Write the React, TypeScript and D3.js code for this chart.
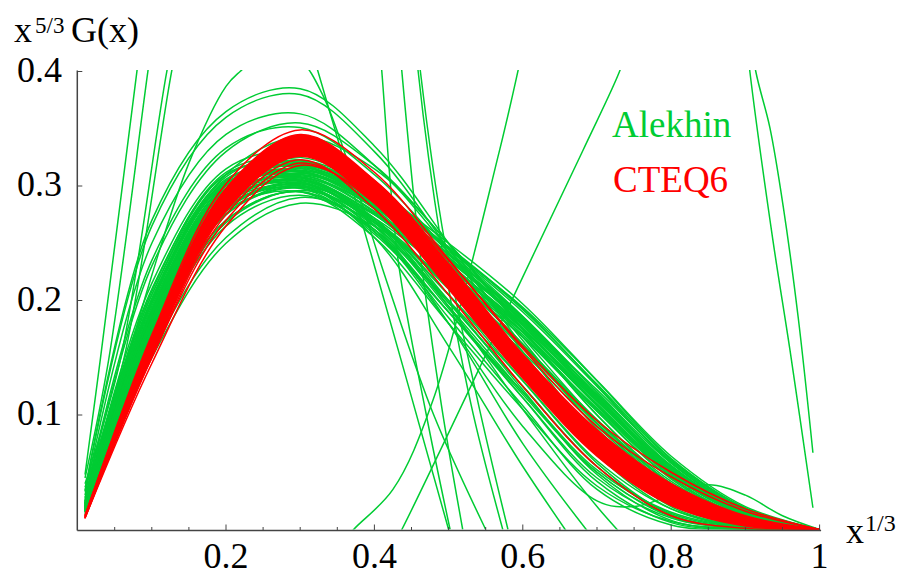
import React from 'react';
import * as d3 from 'd3';

// common grid of x^{1/3} values for the band curves
const T = [0.01, 0.1, 0.2, 0.3, 0.4, 0.5, 0.6, 0.7, 0.8, 0.9, 1.0];

// CTEQ6 band envelope
const redUpper = [0.012, 0.168, 0.298, 0.345, 0.305, 0.232, 0.153, 0.087, 0.04, 0.012, 0];
const redLower = [0.010, 0.152, 0.278, 0.326, 0.285, 0.21, 0.132, 0.064, 0.021, 0.003, 0];

// individual CTEQ6 members visible outside the core band
const redLines: number[][] = [
  [0.012, 0.17, 0.302, 0.349, 0.312, 0.236, 0.158, 0.09, 0.046, 0.016, 0],
  [0.012, 0.165, 0.296, 0.342, 0.305, 0.235, 0.16, 0.095, 0.05, 0.018, 0],
  [0.011, 0.15, 0.27, 0.32, 0.285, 0.215, 0.14, 0.072, 0.027, 0.005, 0],
  [0.01, 0.15, 0.275, 0.323, 0.28, 0.205, 0.125, 0.055, 0.012, 0.001, 0],
  [0.01, 0.145, 0.265, 0.318, 0.288, 0.222, 0.146, 0.075, 0.028, 0.006, 0],
];

// Alekhin members on the common grid
const greenLines: number[][] = [
  [0.018, 0.18, 0.29, 0.31, 0.285, 0.235, 0.18, 0.115, 0.055, 0.016, 0],
  [0.02, 0.19, 0.298, 0.315, 0.288, 0.238, 0.182, 0.118, 0.056, 0.015, 0],
  [0.022, 0.2, 0.305, 0.318, 0.29, 0.24, 0.185, 0.12, 0.058, 0.017, 0],
  [0.019, 0.185, 0.295, 0.312, 0.283, 0.23, 0.175, 0.11, 0.05, 0.013, 0],
  [0.021, 0.195, 0.3, 0.313, 0.285, 0.232, 0.176, 0.108, 0.048, 0.012, 0],
  [0.024, 0.21, 0.31, 0.32, 0.29, 0.24, 0.183, 0.115, 0.052, 0.014, 0],
  [0.017, 0.175, 0.285, 0.307, 0.282, 0.235, 0.183, 0.122, 0.06, 0.018, 0],
  [0.02, 0.19, 0.3, 0.322, 0.297, 0.245, 0.19, 0.125, 0.058, 0.016, 0],
  [0.023, 0.205, 0.308, 0.325, 0.297, 0.243, 0.185, 0.117, 0.053, 0.014, 0],
  [0.018, 0.183, 0.292, 0.316, 0.29, 0.24, 0.186, 0.12, 0.055, 0.015, 0],
  [0.02, 0.188, 0.296, 0.31, 0.278, 0.225, 0.17, 0.105, 0.047, 0.012, 0],
  [0.022, 0.198, 0.303, 0.308, 0.275, 0.222, 0.168, 0.103, 0.045, 0.011, 0],
  [0.025, 0.215, 0.315, 0.33, 0.3, 0.245, 0.186, 0.116, 0.05, 0.012, 0],
  [0.016, 0.17, 0.28, 0.3, 0.275, 0.228, 0.175, 0.112, 0.052, 0.014, 0],
  [0.019, 0.186, 0.297, 0.32, 0.296, 0.25, 0.197, 0.13, 0.062, 0.019, 0],
  [0.017, 0.175, 0.285, 0.305, 0.275, 0.22, 0.16, 0.095, 0.04, 0.009, 0],
  [0.019, 0.182, 0.29, 0.308, 0.277, 0.218, 0.155, 0.09, 0.036, 0.007, 0],
  [0.021, 0.192, 0.298, 0.312, 0.28, 0.22, 0.158, 0.092, 0.037, 0.008, 0],
  [0.02, 0.19, 0.302, 0.322, 0.29, 0.228, 0.162, 0.093, 0.036, 0.007, 0],
  [0.018, 0.178, 0.287, 0.303, 0.27, 0.212, 0.15, 0.085, 0.032, 0.006, 0],
  [0.023, 0.205, 0.31, 0.318, 0.283, 0.225, 0.162, 0.096, 0.04, 0.009, 0],
  [0.016, 0.168, 0.275, 0.298, 0.265, 0.2, 0.13, 0.06, 0.018, 0.003, 0],
  [0.015, 0.16, 0.265, 0.292, 0.262, 0.198, 0.125, 0.055, 0.014, 0.002, 0],
  [0.018, 0.18, 0.285, 0.3, 0.262, 0.19, 0.115, 0.045, 0.01, 0.001, 0],
  [0.017, 0.172, 0.278, 0.295, 0.255, 0.18, 0.105, 0.038, 0.007, 0.001, 0],
  [0.014, 0.155, 0.255, 0.29, 0.268, 0.21, 0.14, 0.07, 0.024, 0.004, 0],
  [0.02, 0.185, 0.29, 0.305, 0.268, 0.195, 0.12, 0.05, 0.012, 0.001, 0],
  [0.016, 0.165, 0.27, 0.295, 0.26, 0.19, 0.12, 0.052, 0.015, 0.002, 0],
  [0.013, 0.15, 0.25, 0.285, 0.265, 0.215, 0.15, 0.08, 0.028, 0.005, 0],
  [0.025, 0.23, 0.33, 0.355, 0.318, 0.25, 0.175, 0.1, 0.042, 0.01, 0],
  [0.027, 0.235, 0.333, 0.351, 0.31, 0.242, 0.168, 0.095, 0.038, 0.008, 0],
  [0.03, 0.25, 0.345, 0.363, 0.318, 0.245, 0.165, 0.088, 0.032, 0.005, 0],
  [0.034, 0.27, 0.365, 0.385, 0.335, 0.25, 0.16, 0.08, 0.025, 0.003, 0],
  [0.033, 0.265, 0.36, 0.38, 0.33, 0.245, 0.155, 0.077, 0.022, 0.003, 0],
  [0.022, 0.2, 0.31, 0.343, 0.315, 0.25, 0.175, 0.1, 0.04, 0.008, 0],
  [0.019, 0.184, 0.293, 0.314, 0.286, 0.233, 0.176, 0.112, 0.052, 0.014, 0],
  [0.021, 0.193, 0.301, 0.317, 0.288, 0.236, 0.179, 0.113, 0.051, 0.013, 0],
  [0.018, 0.181, 0.291, 0.309, 0.281, 0.229, 0.173, 0.108, 0.049, 0.013, 0],
  [0.02, 0.187, 0.294, 0.306, 0.276, 0.226, 0.172, 0.109, 0.05, 0.014, 0],
  [0.022, 0.197, 0.302, 0.313, 0.282, 0.231, 0.178, 0.114, 0.054, 0.015, 0],
  [0.017, 0.177, 0.288, 0.311, 0.286, 0.237, 0.181, 0.114, 0.051, 0.013, 0],
  [0.023, 0.202, 0.306, 0.316, 0.284, 0.23, 0.172, 0.104, 0.044, 0.01, 0],
  [0.02, 0.189, 0.297, 0.319, 0.292, 0.241, 0.184, 0.117, 0.053, 0.014, 0],
  [0.019, 0.183, 0.289, 0.302, 0.272, 0.222, 0.168, 0.106, 0.049, 0.014, 0],
  [0.024, 0.208, 0.312, 0.323, 0.292, 0.238, 0.178, 0.109, 0.046, 0.01, 0],
  [0.017, 0.174, 0.281, 0.302, 0.27, 0.205, 0.13, 0.058, 0.013, 0.001, 0],
  [0.018, 0.179, 0.286, 0.305, 0.272, 0.2, 0.122, 0.048, 0.008, 0, 0],
  [0.016, 0.169, 0.276, 0.299, 0.268, 0.205, 0.135, 0.065, 0.018, 0.002, 0],
  [0.019, 0.183, 0.288, 0.304, 0.266, 0.193, 0.115, 0.042, 0.006, 0, 0],
  [0.015, 0.162, 0.268, 0.296, 0.27, 0.213, 0.145, 0.072, 0.02, 0.002, 0],
  [0.02, 0.188, 0.292, 0.307, 0.27, 0.198, 0.125, 0.055, 0.012, 0.001, 0],
  [0.017, 0.171, 0.279, 0.301, 0.262, 0.185, 0.108, 0.035, 0.004, 0, 0],
  [0.018, 0.176, 0.283, 0.298, 0.258, 0.19, 0.118, 0.05, 0.011, 0.001, 0],
  [0.02, 0.189, 0.298, 0.318, 0.294, 0.246, 0.192, 0.127, 0.061, 0.018, 0],
  [0.022, 0.199, 0.304, 0.321, 0.295, 0.247, 0.193, 0.126, 0.059, 0.017, 0],
  [0.018, 0.179, 0.289, 0.313, 0.291, 0.245, 0.194, 0.13, 0.064, 0.02, 0],
];

// Alekhin members that leave the frame, each with its own abscissae
const greenWildT: number[][] = [
  [0.01, 0.1, 0.2, 0.3, 0.4, 0.5, 0.6, 0.7],
  [0.01, 0.1, 0.2, 0.3, 0.4, 0.5, 0.6, 0.7, 0.8],
  [0.01, 0.1, 0.2, 0.3, 0.4, 0.5, 0.6, 0.7, 0.8],
  [0.01, 0.1, 0.2, 0.3, 0.4, 0.5, 0.6, 0.7, 0.75, 0.8, 0.85, 0.9, 0.95, 1.0],
  [0.01, 0.0305, 0.0801, 0.1],
  [0.01, 0.0418, 0.0949, 0.11],
  [0.01, 0.0575, 0.1205, 0.14],
  [0.01, 0.062, 0.127, 0.145],
  [0.01, 0.0666, 0.1, 0.15, 0.2, 0.219, 0.26, 0.3, 0.33, 0.37, 0.42, 0.48, 0.55],
  [0.89, 0.906, 0.937, 0.96, 0.991],
  [0.9, 0.914, 0.933, 0.951, 0.971, 0.991],
  [0.405, 0.41, 0.432, 0.47, 0.502],
  [0.432, 0.437, 0.46, 0.49, 0.519],
  [0.454, 0.459, 0.49, 0.53, 0.573],
  [0.456, 0.462, 0.495, 0.54, 0.58],
  [0.31, 0.324, 0.398, 0.5],
  [0.36, 0.372, 0.425, 0.479, 0.569, 0.594, 0.6],
  [0.42, 0.437, 0.579, 0.681, 0.731, 0.74],
];
const greenWildV: number[][] = [
  [0.016, 0.17, 0.275, 0.3, 0.255, 0.16, 0.055, -0.04],
  [0.017, 0.175, 0.28, 0.303, 0.265, 0.18, 0.075, -0.012, -0.09],
  [0.018, 0.18, 0.285, 0.305, 0.27, 0.195, 0.105, 0.02, -0.05],
  [0.015, 0.165, 0.27, 0.295, 0.26, 0.18, 0.09, 0.025, 0.02, 0.03, 0.039, 0.03, 0.012, 0],
  [0.048, 0.148, 0.401, 0.5],
  [0.045, 0.148, 0.401, 0.47],
  [0.04, 0.148, 0.401, 0.46],
  [0.037, 0.148, 0.401, 0.455],
  [0.028, 0.148, 0.222, 0.32, 0.387, 0.4, 0.42, 0.41, 0.38, 0.31, 0.21, 0.1, 0.0],
  [0.5, 0.4, 0.253, 0.157, 0.019],
  [0.46, 0.4, 0.351, 0.282, 0.186, 0.067],
  [0.44, 0.4, 0.235, 0.1, 0],
  [0.44, 0.4, 0.25, 0.11, 0],
  [0.44, 0.4, 0.25, 0.11, 0],
  [0.44, 0.4, 0.25, 0.11, 0],
  [0.43, 0.4, 0.235, 0.0],
  [-0.01, 0, 0.035, 0.113, 0.332, 0.402, 0.42],
  [-0.02, 0, 0.192, 0.331, 0.401, 0.42],
];

const xMajor = [0.2, 0.4, 0.6, 0.8, 1];
const xMajorLabels = ['0.2', '0.4', '0.6', '0.8', '1'];
const xMinor = [0.05, 0.1, 0.15, 0.25, 0.3, 0.35, 0.45, 0.5, 0.55, 0.65, 0.7, 0.75, 0.85, 0.9, 0.95];
const yMajor = [0.1, 0.2, 0.3, 0.4];
const yMajorLabels = ['0.1', '0.2', '0.3', '0.4'];

const GREEN = '#00cc33';
const RED = '#ff0000';
const FONT = '"Liberation Serif", "Times New Roman", serif';

export default function App() {
  const x = d3.scaleLinear().domain([0, 1]).range([77.6, 819.6]);
  const y = d3.scaleLinear().domain([0, 0.4]).range([529.5, 71.5]);
  const line = d3
    .line<[number, number]>()
    .x((d) => x(d[0]))
    .y((d) => y(d[1]))
    .curve(d3.curveCatmullRom.alpha(0.5));
  const area = d3
    .area<number>()
    .x((_, i) => x(T[i]))
    .y0((_, i) => y(redLower[i]))
    .y1((_, i) => y(redUpper[i]))
    .curve(d3.curveCatmullRom.alpha(0.5));
  const onGrid = (vals: number[]) => vals.map((v, i) => [T[i], v] as [number, number]);

  const axisColor = '#444';
  const x0 = x(0) - 0.3;
  const yb = y(0) + 1;

  return (
    <svg
      width={903}
      height={581}
      style={{ position: 'absolute', left: 0, top: 0, background: '#fff' }}
      fontFamily={FONT}
    >
      <defs>
        <clipPath id="plot">
          <rect x={x(0)} y={y(0.4) - 1.5} width={x(1) - x(0) + 2} height={y(0) - y(0.4) + 1.5} />
        </clipPath>
      </defs>
      <rect width={903} height={581} fill="#fff" />
      <g clipPath="url(#plot)" fill="none" strokeLinejoin="round">
        {greenLines.map((c, i) => (
          <path key={'g' + i} d={line(onGrid(c)) || ''} stroke={GREEN} strokeWidth={1.5} />
        ))}
        {greenWildT.map((ts, i) => (
          <path
            key={'w' + i}
            d={line(ts.map((t, j) => [t, greenWildV[i][j]] as [number, number])) || ''}
            stroke={GREEN}
            strokeWidth={1.5}
          />
        ))}
        <path d={area(redUpper) || ''} fill={RED} stroke={RED} strokeWidth={1.5} />
        {redLines.map((c, i) => (
          <path key={'r' + i} d={line(onGrid(c)) || ''} stroke={RED} strokeWidth={1.5} />
        ))}
      </g>
      {/* axes */}
      <line x1={x0} x2={x0} y1={y(0.4) - 1} y2={yb} stroke={axisColor} strokeWidth={1.5} />
      <line x1={x0} x2={x(1) + 1.5} y1={yb} y2={yb} stroke={axisColor} strokeWidth={1.5} />
      {xMinor.map((t) => (
        <line key={'xm' + t} x1={x(t)} x2={x(t)} y1={yb} y2={yb - 3.5} stroke={axisColor} strokeWidth={1} />
      ))}
      {xMajor.map((t, i) => (
        <g key={'xM' + t}>
          <line x1={x(t)} x2={x(t)} y1={yb} y2={yb - 6} stroke={axisColor} strokeWidth={1} />
          <text x={x(t)} y={568} textAnchor="middle" fontSize={36} fill="#000">
            {xMajorLabels[i]}
          </text>
        </g>
      ))}
      {yMajor.map((v, i) => (
        <g key={'yM' + v}>
          <line x1={x0} x2={x0 + 5} y1={y(v)} y2={y(v)} stroke={axisColor} strokeWidth={1} />
          <text x={62} y={y(v) + 10} textAnchor="end" fontSize={36} fill="#000">
            {yMajorLabels[i]}
          </text>
        </g>
      ))}
      {/* axis titles */}
      <text y={42} fontSize={36} fill="#000">
        <tspan x={14}>x</tspan>
        <tspan x={35} y={33} fontSize={23}>5/3</tspan>
        <tspan x={71} y={42}>G(x)</tspan>
      </text>
      <text y={543} fontSize={36} fill="#000">
        <tspan x={846}>x</tspan>
        <tspan x={865} y={531} fontSize={24}>1/3</tspan>
      </text>
      {/* legend */}
      <text x={612} y={137} fontSize={37} fill={GREEN}>Alekhin</text>
      <text x={613} y={192} fontSize={37} fill={RED}>CTEQ6</text>
    </svg>
  );
}
